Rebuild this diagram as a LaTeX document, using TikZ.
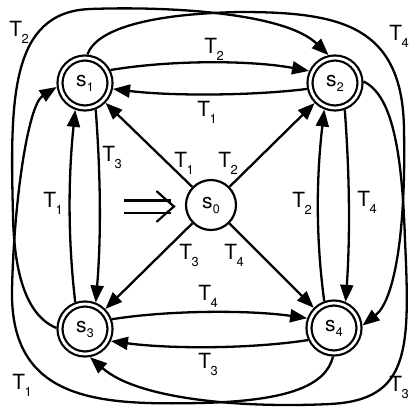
\documentclass[tikz,border=0pt]{standalone}
\usepackage{fontspec}
\setmainfont{TeX Gyre Heros}
\usetikzlibrary{arrows.meta}
\newcommand{\Tlab}[1]{{\fontsize{21}{21}\selectfont T\kern-0.5bp\raisebox{-7bp}{\fontsize{13}{13}\selectfont #1}}}
\newcommand{\Slab}[1]{{\fontsize{21}{21}\selectfont s\kern0.3bp\raisebox{-5bp}{\fontsize{12.5}{12.5}\selectfont #1}}}
\begin{document}
\begin{tikzpicture}[x=1bp,y=-1bp,
  state/.style={circle, draw, line width=2.2bp, double, double distance=2.8bp, minimum size=50bp, inner sep=0pt, outer sep=3.6bp},
  initstate/.style={circle, draw, line width=2.2bp, minimum size=50bp, inner sep=0pt},
  edge/.style={line width=2.3bp, -{Triangle[length=17bp,width=13bp]}},
  startline/.style={double, line width=2.2bp, double distance=10bp},
  chevron/.style={line width=2.2bp, line cap=round},
  lab/.style={inner sep=0pt, anchor=center}]
\useasboundingbox (0,0) rectangle (411,407);
\node[initstate] (s0) at (211,205) {\Slab{0}};
\node[state] (s1) at (85,83) {\Slab{1}};
\node[state] (s2) at (335,83) {\Slab{2}};
\node[state] (s3) at (85,329) {\Slab{3}};
\node[state] (s4) at (334,328) {\Slab{4}};
% start marker
\coordinate (start) at (124,206.5);
\coordinate (starttip) at (174,206.5);
\draw[startline] (start) -- ([xshift=-3bp]starttip);
\draw[chevron] ([shift={(-17,-15)}]starttip) .. controls ([shift={(-7,-6)}]starttip) .. (starttip)
  .. controls ([shift={(-7,6)}]starttip) .. ([shift={(-17,15)}]starttip);
% from s0
\draw[edge] (s0) -- (s1);
\draw[edge] (s0) -- (s2);
\draw[edge] (s0) -- (s3);
\draw[edge] (s0) -- (s4);
% top pair
\draw[edge] (s1.27) .. controls (170,60) and (250,60) .. (s2.155);
\draw[edge] (s2.192) .. controls (250,96) and (170,96) .. (s1.-12);
% left pair
\draw[edge] (s1.-68) .. controls (101,180) and (101,240) .. (s3.68);
\draw[edge] (s3.110) .. controls (68,240) and (68,180) .. (s1.-110);
% right pair
\draw[edge] (s2.-70) .. controls (350,180) and (350,240) .. (s4.66);
\draw[edge] (s4.110) .. controls (316,240) and (316,180) .. (s2.-112);
% bottom pair
\draw[edge] (s3.20) .. controls (170,310) and (250,310) .. (s4.160);
\draw[edge] (s4.-155) .. controls (250,349) and (170,349) .. (s3.-25);
% outer curves
\draw[edge] (s3.178) .. controls (25,315) and (14,270) .. (13,215)
  .. controls (10,100) and (10,12) .. (90,9)
  .. controls (170,6) and (285,13) .. (s2.103);
\draw[edge] (s1.85) .. controls (95,32) and (140,14) .. (240,12)
  .. controls (340,12) and (403,25) .. (404,130)
  .. controls (406,230) and (395,300) .. (s4.5);
\draw[edge] (s2.3) .. controls (392,95) and (402,150) .. (405,240)
  .. controls (410,350) and (410,400) .. (330,404)
  .. controls (250,408) and (140,401) .. (s3.-80);
\draw[edge] (s4.-92) .. controls (326,385) and (290,401) .. (200,403)
  .. controls (100,405) and (10,402) .. (12,290)
  .. controls (14,200) and (28,105) .. (s1.188);
% labels
\node[lab] (la) at (214,49) {\Tlab{2}};
\node[lab] (lb) at (207,112) {\Tlab{1}};
\node[lab] (lc) at (112,157) {\Tlab{3}};
\node[lab] (ld) at (53,203) {\Tlab{1}};
\node[lab] (le) at (302,203) {\Tlab{2}};
\node[lab] (lf) at (367,202) {\Tlab{4}};
\node[lab] (lg) at (208,296) {\Tlab{4}};
\node[lab] (lh) at (208,364) {\Tlab{3}};
\node[lab] (li) at (184,163) {\Tlab{1}};
\node[lab] (lj) at (228,163) {\Tlab{2}};
\node[lab] (lk) at (189,255) {\Tlab{3}};
\node[lab] (ll) at (234,255) {\Tlab{4}};
\node[lab] (lm) at (19,32) {\Tlab{2}};
\node[lab] (ln) at (399,36) {\Tlab{4}};
\node[lab] (lo) at (22,385) {\Tlab{1}};
\node[lab] (lp) at (399,387) {\Tlab{3}};
\end{tikzpicture}
\end{document}
